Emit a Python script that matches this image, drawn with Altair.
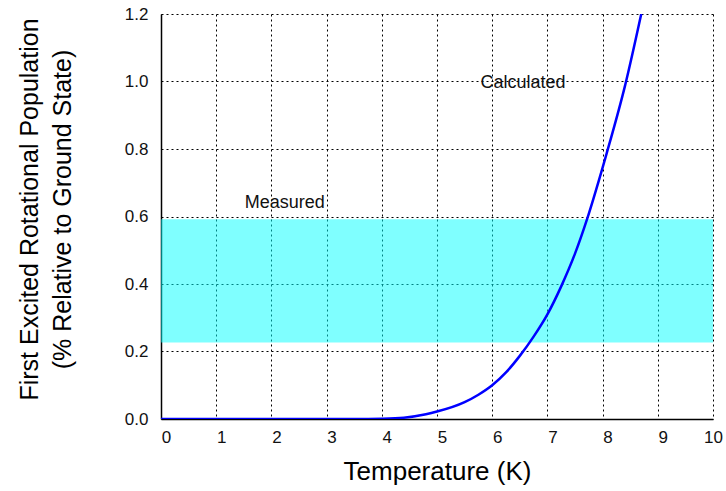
import altair as alt
import pandas as pd

# Calculated curve
temps = [0, 1, 2, 3, 3.5, 4, 4.4, 4.8, 5, 5.5, 5.75, 6, 6.25, 6.5, 6.75, 7, 7.25, 7.5, 7.72, 8, 8.07, 8.41, 8.7]
pops = [0, 0, 0, 0, 0, 0.001, 0.004, 0.014, 0.022, 0.05, 0.072, 0.1, 0.138, 0.187, 0.244, 0.31, 0.393, 0.49, 0.593, 0.745, 0.785, 0.99, 1.2]

# Measured band
band_x = [0]
band_x2 = [10]
band_low = [0.227]
band_high = [0.592]

# Annotations
label_text = ["Measured", "Calculated"]
label_x = [2.24, 6.56]
label_y = [0.64, 0.995]

x_ticks = [0, 1, 2, 3, 4, 5, 6, 7, 8, 9, 10]
y_ticks = [0.0, 0.2, 0.4, 0.6, 0.8, 1.0, 1.2]

FONT = "Liberation Sans"

curve_df = pd.DataFrame({"T": temps, "P": pops})
band_df = pd.DataFrame({"x": band_x, "x2": band_x2, "lo": band_low, "hi": band_high})
label_df = pd.DataFrame({"text": label_text, "x": label_x, "y": label_y})

x_scale = alt.Scale(domain=[0, 10], nice=False, zero=False)
y_scale = alt.Scale(domain=[0, 1.2], nice=False, zero=False)

x_axis = alt.Axis(
    title="Temperature (K)",
    values=x_ticks,
    format="d",
    grid=True,
    gridColor="#000000",
    gridDash=[2, 3],
    gridWidth=1,
    gridOpacity=1,
    domainColor="#000000",
    domainWidth=1.5,
    ticks=False,
    labelFont=FONT,
    labelFontSize=17,
    labelColor="#111111",
    labelPadding=10,
    labelOffset={"condition": {"test": "datum.value == 10", "value": 0}, "value": 5},
    labelFlush=False,
    labelBound=False,
    titleFont=FONT,
    titleFontSize=26,
    titleFontWeight="normal",
    titleColor="#000000",
    titlePadding=13,
)

y_axis = alt.Axis(
    title=["First Excited Rotational Population", "(% Relative to Ground State)"],
    values=y_ticks,
    format=".1f",
    grid=True,
    gridColor="#000000",
    gridDash=[2, 3],
    gridWidth=1,
    gridOpacity=1,
    domainColor="#000000",
    domainWidth=1.5,
    ticks=False,
    labelFont=FONT,
    labelFontSize=17,
    labelColor="#111111",
    labelPadding=13,
    labelFlush=False,
    titleFont=FONT,
    titleFontSize=25,
    titleFontWeight="normal",
    titleColor="#000000",
    titleLineHeight=33,
    titleAngle=-90,
    titleAlign="center",
    titleBaseline="bottom",
    titleX=-119,
    titleY=195,
)

band = alt.Chart(band_df).mark_rect(color="#00FFFF", opacity=0.5).encode(
    x=alt.X("x:Q", scale=x_scale, axis=x_axis),
    x2="x2:Q",
    y=alt.Y("lo:Q", scale=y_scale, axis=y_axis),
    y2="hi:Q",
)

curve = alt.Chart(curve_df).mark_line(color="#0000FF", strokeWidth=2.5, interpolate="monotone", clip=True).encode(
    x=alt.X("T:Q", scale=x_scale),
    y=alt.Y("P:Q", scale=y_scale),
)

labels = alt.Chart(label_df).mark_text(font=FONT, fontSize=18, color="#111111", align="center", baseline="middle").encode(
    x=alt.X("x:Q", scale=x_scale),
    y=alt.Y("y:Q", scale=y_scale),
    text="text:N",
)

chart = alt.layer(band, curve, labels).properties(
    width=552,
    height=405,
    autosize=alt.AutoSizeParams(type="none"),
    padding={"left": 161, "top": 14, "right": 13, "bottom": 72},
    background="#FFFFFF",
).configure_view(stroke=None)

chart.save("out.html", embed_options={"renderer": "svg", "actions": False})
